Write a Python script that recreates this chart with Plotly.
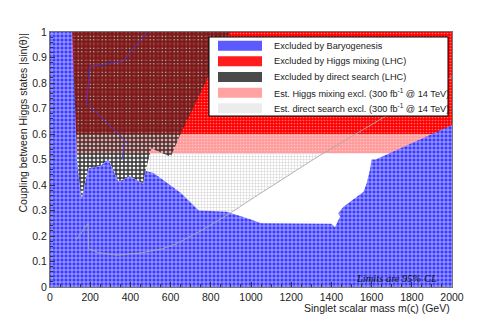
import plotly.graph_objects as go

# --- data (mass in GeV, coupling |sin(theta)|) ---
mass_range = [0, 2000]
mix_now = 0.60     # current LHC Higgs-mixing limit
mix_300 = 0.525    # projected limit, 300 fb^-1 @ 14 TeV

# edge shared by the direct-search exclusion (above) and baryogenesis (below)
edge_x = [110, 135, 140, 150, 158, 168, 175, 191, 250, 290, 340, 398, 464, 475]
edge_y = [1.0, 0.49, 0.45, 0.38, 0.345, 0.38, 0.41, 0.465, 0.475, 0.50, 0.413, 0.433, 0.405, 0.455]

# rest of the direct-search (LHC) contour
direct_x = [490, 505, 540, 575, 600, 650, 895]
direct_y = [0.50, 0.545, 0.53, 0.52, 0.51, 0.60, 1.0]

# rest of the baryogenesis boundary
baryo_x = [515, 650, 740, 880, 1000, 1050, 1400, 1418, 1443, 1434, 1460, 1560, 1575, 1592, 1600, 1620, 2000]
baryo_y = [0.447, 0.37, 0.30, 0.295, 0.265, 0.25, 0.248, 0.234, 0.276, 0.289, 0.315, 0.374, 0.406, 0.46, 0.50, 0.50, 0.635]

# projected direct-search exclusion (300 fb^-1)
est_x = [130, 130, 190, 192, 240, 332, 448, 560, 630, 760, 896, 995, 1330, 2000, 2000]
est_y = [1.0, 0.185, 0.25, 0.15, 0.135, 0.125, 0.133, 0.15, 0.17, 0.225, 0.289, 0.341, 0.51, 0.825, 1.0]

# second baryogenesis contour seen through the direct-search fill
baryo2_x = [481, 365, 199, 182, 373, 357]
baryo2_y = [1.0, 0.885, 0.865, 0.72, 0.576, 0.498]

labels = [
    "Excluded by Baryogenesis",
    "Excluded by Higgs mixing (LHC)",
    "Excluded by direct search (LHC)",
    "Est. Higgs mixing excl. (300 fb<sup>-1</sup> @ 14 TeV)",
    "Est. direct search excl. (300 fb<sup>-1</sup> @ 14 TeV)",
]
swatch_colors = ["#5a5aff", "#ff1c1c", "#4a4a4a", "#ffa3a3", "#ececec"]

FONT = "Liberation Sans, Arial, Helvetica, sans-serif"

fig = go.Figure()

# projected direct-search region (white with grey dots)
fig.add_trace(go.Scatter(
    x=est_x, y=est_y, mode="none", fill="toself", hoverinfo="skip",
    fillpattern=dict(shape="+", bgcolor="#ffffff", fgcolor="#cfcfcf",
                     fgopacity=1, size=3, solidity=0.3),
))

# projected Higgs-mixing band
x0, x1 = mass_range
fig.add_trace(go.Scatter(
    x=[x0, x1, x1, x0], y=[mix_300, mix_300, mix_now, mix_now],
    mode="none", fill="toself", hoverinfo="skip",
    fillpattern=dict(shape=".", bgcolor="#ff9b9b", fgcolor="#ffc4c4",
                     fgopacity=1, size=3, solidity=0.25),
))

# current Higgs-mixing exclusion
fig.add_trace(go.Scatter(
    x=[x0, x1, x1, x0], y=[mix_now, mix_now, 1.0, 1.0],
    mode="none", fill="toself", hoverinfo="skip",
    fillpattern=dict(shape=".", bgcolor="#ff0000", fgcolor="#ff7070",
                     fgopacity=1, size=3, solidity=0.25),
))

# direct search (LHC): dark pattern, what lies below shows through the gaps
fig.add_trace(go.Scatter(
    x=edge_x + direct_x, y=edge_y + direct_y,
    mode="none", fill="toself", hoverinfo="skip",
    fillpattern=dict(shape="+", bgcolor="rgba(0,0,0,0)", fgcolor="#333333",
                     fgopacity=1, size=4, solidity=0.6),
))

# baryogenesis
fig.add_trace(go.Scatter(
    x=[0] + edge_x + baryo_x, y=[1.0] + edge_y + baryo_y,
    mode="none", fill="tozeroy", hoverinfo="skip",
    fillpattern=dict(shape="+", bgcolor="#3c3cff", fgcolor="#ffffff",
                     fgopacity=0.8, size=4, solidity=0.3),
))

# outline of the projected direct-search region
fig.add_trace(go.Scatter(
    x=est_x[1:-1], y=est_y[1:-1], mode="lines", hoverinfo="skip",
    line=dict(color="rgba(170,170,170,0.9)", width=1),
))

fig.add_trace(go.Scatter(
    x=baryo2_x, y=baryo2_y, mode="lines", hoverinfo="skip",
    line=dict(color="rgba(60,60,230,0.8)", width=1),
))

# --- hand-made legend box (positions in window pixels; the page body adds 8px) ---
OFF = 8
W, H = 501 - OFF, 320 - OFF
L, R, T, B = 50, 452, 32, 287
def px(x):
    return (x - L) / (R - L)
def py(y):
    return (B - y) / (B - T)

shapes = [dict(type="rect", xref="paper", yref="paper",
               x0=px(209), x1=px(448), y0=py(116), y1=py(37),
               fillcolor="white", line=dict(color="black", width=1))]
annotations = []
row0, row_step = 45.7, 15.65
for i, (lab, col) in enumerate(zip(labels, swatch_colors)):
    yc = row0 + i * row_step
    shapes.append(dict(type="rect", xref="paper", yref="paper",
                       x0=px(218), x1=px(262), y0=py(yc + 5), y1=py(yc - 5),
                       fillcolor=col, line=dict(width=0)))
    annotations.append(dict(xref="paper", yref="paper", x=px(272), y=py(yc),
                            text=lab, showarrow=False, xanchor="left",
                            yanchor="middle", font=dict(size=9.2, color="#222")))

annotations += [
    dict(xref="paper", yref="paper", x=px(22), y=1.0, text="Coupling between Higgs states |sin(θ)|",
         textangle=-90, showarrow=False, xanchor="center", yanchor="top",
         font=dict(size=10.5, color="#222")),
    dict(xref="paper", yref="paper", x=1.0, y=py(308), text="Singlet scalar mass m(ς) (GeV)",
         showarrow=False, xanchor="right", yanchor="middle",
         font=dict(size=10.5, color="#222")),
    dict(xref="paper", yref="paper", x=px(439), y=py(278), text="<i>Limits are 95% CL</i>",
         showarrow=False, xanchor="right", yanchor="middle",
         font=dict(size=10.5, family="Liberation Serif, Times New Roman, serif", color="#111")),
]

axis_common = dict(
    showgrid=False, zeroline=False, showline=True, mirror=True,
    linecolor="#777", linewidth=1, ticks="inside", ticklen=5, tickcolor="#333",
    tickfont=dict(size=10.5, color="#222"),
)

fig.update_layout(
    width=W, height=H,
    margin=dict(l=L - OFF, r=W - (R - OFF), t=T - OFF, b=H - (B - OFF)),
    paper_bgcolor="white", plot_bgcolor="white",
    font=dict(family=FONT),
    showlegend=False,
    xaxis=dict(range=[0, 2000], dtick=200, tick0=0,
               minor=dict(ticks="inside", ticklen=3, dtick=50, tickcolor="#333"),
               **axis_common),
    yaxis=dict(range=[0, 1], dtick=0.1, tick0=0, tickformat="~g",
               minor=dict(ticks="inside", ticklen=3, dtick=0.02, tickcolor="#333"),
               **axis_common),
    shapes=shapes,
    annotations=annotations,
)

fig.write_html("out.html")
